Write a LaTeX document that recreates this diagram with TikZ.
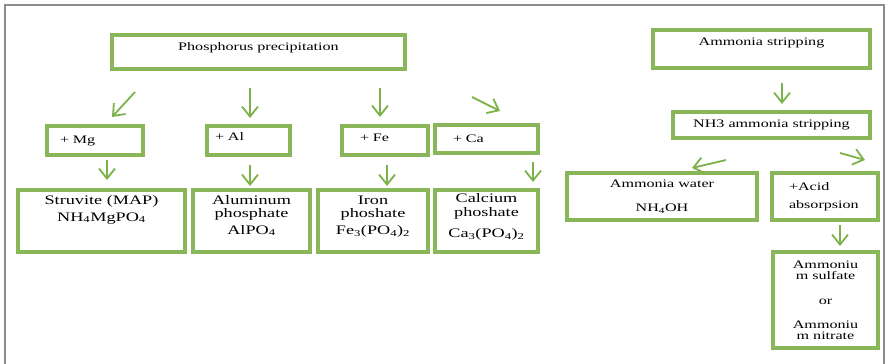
\documentclass[tikz,border=0pt]{standalone}
\usepackage{fontspec}
\setmainfont{Liberation Serif}[FakeStretch=1.4]
\usetikzlibrary{arrows.meta}
\definecolor{boxgreen}{RGB}{138,182,90}
\definecolor{arrgreen}{RGB}{125,178,74}
\definecolor{framegray}{RGB}{140,140,140}
\newcommand\lowpad[1]{\rule[-#1]{0pt}{#1}}
\begin{document}
\begin{tikzpicture}[x=1pt,y=-1pt,
  box/.style={draw=boxgreen, line width=3.5pt, inner sep=0pt, font=\fontsize{11.5}{13}\selectfont},
  big/.style={font=\fontsize{13}{13}\selectfont, align=center},
  tight/.style={font=\fontsize{11.5}{11}\selectfont, align=center},
  arr/.style={draw=arrgreen, line width=1.8pt, -{Straight Barb[length=10pt,width=16pt]}}]
\useasboundingbox (0,0) rectangle (887,364);
\draw[framegray, line width=1.2pt] (5,364) -- (5,5) -- (884,5) -- (884,364);

% phosphorus branch
\node[box, minimum width=293pt, minimum height=34pt] (pp) at (258.5,52) {Phosphorus precipitation\lowpad{10pt}};
\node[box, minimum width=96pt, minimum height=29pt, text width=70pt, align=left] (mg) at (95,140.5) {+ Mg};
\node[box, minimum width=83pt, minimum height=29pt, text width=67pt, align=left] (al) at (248.5,140.5) {+ Al\lowpad{7pt}};
\node[box, minimum width=86pt, minimum height=29pt, text width=50pt, align=left] (fe) at (385,140.5) {+ Fe\lowpad{5pt}};
\node[box, minimum width=103pt, minimum height=28pt, text width=67pt, align=left] (ca) at (486.5,139) {+ Ca};

\node[box, big, minimum width=167pt, minimum height=62pt] (st) at (101.5,221) {Struvite (MAP)\\[4pt]NH\textsubscript{4}MgPO\textsubscript{4}\lowpad{26pt}};
\node[box, big, minimum width=117pt, minimum height=62pt] (alp) at (251.5,221) {Aluminum\\phosphate\\[4pt]AlPO\textsubscript{4}\lowpad{13pt}};
\node[box, big, minimum width=110pt, minimum height=62pt] (fep) at (373,221) {Iron\\phoshate\\[4pt]Fe\textsubscript{3}(PO\textsubscript{4})\textsubscript{2}\lowpad{11pt}};
\node[box, big, minimum width=103pt, minimum height=62pt] (cap) at (486.5,221) {Calcium\\[1pt]phoshate\\[8pt]Ca\textsubscript{3}(PO\textsubscript{4})\textsubscript{2}\lowpad{11pt}};

% ammonia branch
\node[box, minimum width=217pt, minimum height=38pt] (as) at (761.5,49) {Ammonia stripping\lowpad{15pt}};
\node[box, minimum width=197pt, minimum height=26pt] (nh) at (771.5,125) {NH3 ammonia stripping};
\node[box, align=center, minimum width=190pt, minimum height=47pt] (aw) at (662,196.5) {Ammonia water\\[11pt]NH\textsubscript{4}OH};
\node[box, minimum width=106pt, minimum height=47pt, text width=72pt, align=left] (acid) at (825,196.5) {+Acid\\[5pt]absorpsion};
\node[box, tight, minimum width=105pt, minimum height=96pt] (amm) at (825.5,300) {Ammoniu\\m sulfate\\[14pt]or\\[13pt]Ammoniu\\m nitrate};

% arrows (free-floating)
\coordinate (a1) at (135,92);  \coordinate (a1e) at (112,117);
\coordinate (a2) at (250,88);  \coordinate (a2e) at (250,118);
\coordinate (a3) at (380,88);  \coordinate (a3e) at (380,117);
\coordinate (a4) at (472,97);  \coordinate (a4e) at (500,111);
\coordinate (b1) at (107,160); \coordinate (b1e) at (107,180);
\coordinate (b2) at (250,165); \coordinate (b2e) at (250,186);
\coordinate (b3) at (387,165); \coordinate (b3e) at (387,186);
\coordinate (b4) at (533,162); \coordinate (b4e) at (533,182);
\coordinate (r1) at (782,83);  \coordinate (r1e) at (782,104);
\coordinate (r2) at (726,160); \coordinate (r2e) at (692,168);
\coordinate (r3) at (840,153); \coordinate (r3e) at (865,160);
\coordinate (r4) at (840,225); \coordinate (r4e) at (840,246);
\foreach \s in {a1,a2,a3,a4,b1,b2,b3,b4,r1,r2,r3,r4}
  \draw[arr] (\s) -- (\s e);
\end{tikzpicture}
\end{document}
